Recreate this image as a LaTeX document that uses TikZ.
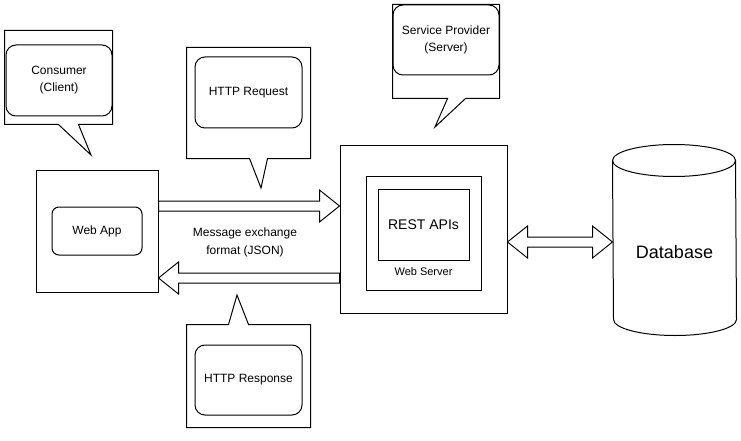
\documentclass[tikz,border=0pt]{standalone}
\usepackage{fontspec}
\setmainfont{Liberation Sans}
\usepackage{tikz}
\usetikzlibrary{calc}

\tikzset{
  frame/.style={draw, inner sep=0pt},
  bubble/.style={draw, rounded corners=10pt, inner sep=0pt, align=center, font=\fontsize{12}{17}\selectfont},
  blockarrow/.style={draw, fill=white, line join=miter},
  lbl/.style={align=center, font=\fontsize{12}{18}\selectfont}
}

\begin{document}
\begin{tikzpicture}[x=1pt, y=-1pt, line width=1pt]
\useasboundingbox (0,0) rectangle (741,441);

% Client side
\node[frame, minimum width=122, minimum height=122] (webapp) at (97,231) {};
\node[bubble, rounded corners=7pt, minimum width=90, minimum height=48] (webappin) at (97,231) {Web App};

% Server side
\node[frame, minimum width=167, minimum height=168] (server) at (423.5,229) {};
\node[frame, minimum width=115, minimum height=114] (webserver) at (423.5,233) {};
\node[frame, minimum width=91, minimum height=71, font=\fontsize{14}{16}\selectfont] (rest) at (423.5,224.5) {REST APIs};
\node[font=\fontsize{11}{13}\selectfont] (wslabel) at (423.5,272) {Web Server};

% Database cylinder
\node[minimum width=123, minimum height=190, inner sep=0pt] (db) at (674.5,240) {};
\draw ($(db.north west)+(0,16)$) arc[start angle=180, end angle=0, x radius=61.5pt, y radius=16pt]
  -- ($(db.south east)+(0,-16)$) arc[start angle=0, end angle=-180, x radius=61.5pt, y radius=16pt] -- cycle;
\draw ($(db.north west)+(0,16)$) arc[start angle=180, end angle=360, x radius=61.5pt, y radius=16pt];
\node[font=\fontsize{18}{21}\selectfont] (dblabel) at (674.5,252) {Database};

% Callouts
\coordinate (consumertip) at (91,155);
\node[minimum width=107, minimum height=93, inner sep=0pt] (consumer) at (58.5,77.5) {};
\draw (consumer.south west) -- (consumer.north west) -- (consumer.north east) -- (consumer.south east)
  -- ($(consumer.south west)+(74,0)$) -- (consumertip) -- ($(consumer.south west)+(54,0)$) -- cycle;
\node[bubble, minimum width=106, minimum height=71] (consumerin) at (59,80.5) {Consumer\\(Client)};

\coordinate (reqtip) at (261,188);
\node[minimum width=123, minimum height=110, inner sep=0pt] (req) at (248.5,103) {};
\draw (req.south west) -- (req.north west) -- (req.north east) -- (req.south east)
  -- ($(req.south west)+(81,0)$) -- (reqtip) -- ($(req.south west)+(63,0)$) -- cycle;
\node[bubble, minimum width=107, minimum height=71] (reqin) at (248.5,92.5) {HTTP Request};

\coordinate (provtip) at (435,127);
\node[minimum width=106, minimum height=93, inner sep=0pt] (prov) at (446,51.5) {};
\draw (prov.south west) -- (prov.north west) -- (prov.north east) -- (prov.south east)
  -- ($(prov.south west)+(73,0)$) -- (provtip) -- ($(prov.south west)+(55,0)$) -- cycle;
\node[bubble, minimum width=106, minimum height=70] (provin) at (446,40) {Service Provider\\(Server)};

\coordinate (resptip) at (237,295);
\node[minimum width=123, minimum height=102, inner sep=0pt] (resp) at (248.5,376) {};
\draw (resp.north west) -- ($(resp.north west)+(42,0)$) -- (resptip) -- ($(resp.north west)+(62,0)$)
  -- (resp.north east) -- (resp.south east) -- (resp.south west) -- cycle;
\node[bubble, minimum width=107, minimum height=70] (respin) at (248.5,380) {HTTP Response};

% Block arrows
\coordinate (reqS) at ($(webapp.east)+(0,-25)$);
\coordinate (reqE) at ($(server.west)+(0,-23)$);
\draw[blockarrow] ($(reqS)+(0,-5)$) -- ($(reqE)+(-20,-5)$) -- ($(reqE)+(-20,-16)$) -- (reqE)
  -- ($(reqE)+(-20,16)$) -- ($(reqE)+(-20,5)$) -- ($(reqS)+(0,5)$) -- cycle;

\coordinate (respS) at ($(server.west)+(0,49)$);
\coordinate (respE) at ($(webapp.east)+(0,47)$);
\draw[blockarrow] ($(respS)+(0,-5)$) -- ($(respE)+(20,-5)$) -- ($(respE)+(20,-16)$) -- (respE)
  -- ($(respE)+(20,16)$) -- ($(respE)+(20,5)$) -- ($(respS)+(0,5)$) -- cycle;

\coordinate (dbS) at ($(server.east)+(0,13)$);
\coordinate (dbE) at ($(db.west)+(0,2)$);
\draw[blockarrow] (dbS) -- ($(dbS)+(20,-16)$) -- ($(dbS)+(20,-5)$) -- ($(dbE)+(-20,-5)$) -- ($(dbE)+(-20,-16)$)
  -- (dbE) -- ($(dbE)+(-20,16)$) -- ($(dbE)+(-20,5)$) -- ($(dbS)+(20,5)$) -- ($(dbS)+(20,16)$) -- cycle;

\node[lbl] (msg) at (245,242) {Message exchange\\format (JSON)};
\end{tikzpicture}
\end{document}
